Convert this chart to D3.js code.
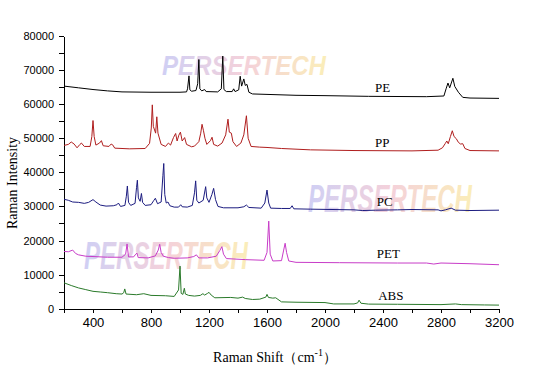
<!DOCTYPE html>
<html>
<head>
<meta charset="utf-8">
<script src="https://cdn.jsdelivr.net/npm/d3@7"></script>
<style>
  body { margin: 0; background: #fff; }
  svg { display: block; }
</style>
</head>
<body>
<div id="chart"></div>
<script>
let width = 545,
    height = 382;

// spectra, [Raman shift, intensity]
const pe = [[200,65300],[300,64800],[400,64300],[500,63900],[600,63600],[800,63500],[1000,63500],[1045,63600],[1052,64500],[1062,68300],[1068,64200],[1080,63800],[1110,64000],[1122,66000],[1130,73100],[1137,64500],[1150,63900],[1170,64300],[1180,63700],[1260,63600],[1285,64500],[1295,74100],[1303,64300],[1320,63700],[1360,63700],[1370,64500],[1380,63700],[1405,64200],[1415,68200],[1425,65300],[1440,67400],[1450,65500],[1462,65800],[1475,63500],[1500,63000],[1800,62600],[2000,62500],[2300,62300],[2700,62200],[2820,62400],[2835,64500],[2848,66200],[2860,64800],[2882,67600],[2895,65200],[2920,63500],[2950,62000],[3000,61800],[3200,61700]];

const pp = [[200,47900],[230,48200],[250,48900],[270,48300],[290,47200],[310,48200],[320,48600],[340,47600],[380,47600],[392,50500],[400,55200],[408,50500],[420,48000],[445,48600],[458,49300],[470,47800],[510,47600],[525,48300],[535,48100],[550,47100],[650,46900],[760,47000],[790,48500],[802,53000],[809,59800],[816,53500],[832,51500],[840,56300],[848,51500],[870,48200],[900,47600],[920,48600],[935,48000],[955,50200],[970,51400],[980,49200],[992,50900],[1003,51800],[1015,49200],[1032,50200],[1045,48200],[1080,47500],[1100,47700],[1130,49000],[1143,51500],[1152,54100],[1162,52200],[1172,50000],[1185,48200],[1210,49300],[1221,50300],[1232,48200],[1260,47700],[1290,48600],[1315,51000],[1331,55600],[1340,51800],[1354,51500],[1365,49000],[1390,47600],[1420,48600],[1440,51000],[1458,56600],[1470,50000],[1490,47600],[1550,47400],[1600,47300],[1700,47000],[1900,46600],[2200,46400],[2600,46300],[2780,46500],[2810,47200],[2830,48500],[2840,49200],[2850,48400],[2865,50500],[2878,52200],[2890,50500],[2905,49900],[2920,48800],[2935,48300],[2950,48400],[2965,47000],[3000,46400],[3200,46300]];

const pc = [[200,32100],[230,31800],[260,31300],[300,31200],[340,30900],[370,31200],[400,32000],[420,31300],[450,30400],[490,30100],[540,30200],[565,30500],[575,31000],[590,30000],[620,30300],[630,33000],[637,36000],[645,31200],[660,30300],[690,30900],[700,35500],[706,37700],[713,32500],[725,31500],[734,33800],[742,31200],[760,30300],[800,30500],[820,31800],[830,32400],[845,30800],[870,31300],[882,39000],[888,42600],[895,33500],[905,31000],[917,31300],[930,30200],[960,29800],[990,29800],[1005,30500],[1015,29900],[1050,29800],[1085,30300],[1100,34000],[1108,37500],[1116,31800],[1130,31000],[1160,31800],[1177,35800],[1185,32500],[1200,31200],[1220,33500],[1232,35300],[1245,32000],[1262,30000],[1300,29600],[1400,29600],[1440,29900],[1458,30400],[1475,29700],[1560,29500],[1585,31000],[1600,34800],[1612,31000],[1625,29500],[1700,29400],[1760,29400],[1773,30200],[1785,29300],[1900,29200],[2200,29000],[2260,28800],[2350,28900],[2500,29000],[2600,29100],[2780,29000],[2800,28700],[2830,29000],[2870,29500],[2900,28900],[3000,28800],[3200,28900]];

const pet = [[200,16800],[230,16700],[260,17200],[280,16200],[300,15800],[350,15400],[400,15300],[500,15100],[600,15100],[625,16000],[635,19000],[645,15200],[680,15200],[695,16000],[703,16300],[712,15000],[780,14900],[830,15500],[850,17200],[860,18900],[870,16500],[885,15400],[920,15000],[960,14800],[1050,14900],[1095,15300],[1113,15800],[1130,14900],[1190,14900],[1250,15400],[1275,17100],[1289,18200],[1300,16000],[1320,14700],[1450,14400],[1580,14200],[1600,16500],[1612,25700],[1622,16000],[1640,14000],[1700,14100],[1715,17200],[1725,19200],[1735,16500],[1750,14000],[1800,13600],[2100,13500],[2500,13400],[2700,13400],[2750,13100],[2800,13400],[3000,13200],[3200,12900]];

const abs = [[200,7600],[250,6800],[300,6100],[350,5600],[400,5100],[450,4900],[500,4700],[560,4400],[600,4300],[612,4700],[619,5800],[628,4300],[700,4100],[750,4400],[800,3900],[900,3800],[960,3600],[990,5500],[1000,12500],[1008,4500],[1020,4200],[1030,6000],[1037,4300],[1060,3900],[1100,3700],[1140,3900],[1158,4400],[1170,4000],[1190,4500],[1200,4800],[1215,4000],[1240,3200],[1350,3300],[1400,3100],[1432,3400],[1450,3000],[1500,2700],[1550,2800],[1592,3400],[1600,4200],[1610,3300],[1640,3100],[1660,3200],[1700,2000],[1800,1900],[2000,1800],[2060,1400],[2200,1400],[2225,1700],[2235,2500],[2248,1600],[2300,1350],[2500,1300],[2800,1200],[2900,1400],[2940,1200],[3100,1100],[3200,1050]];

const seriesNames = ["PE", "PP", "PC", "PET", "ABS"];
const seriesData = [pe, pp, pc, pet, abs];
const seriesColors = ["#000000", "#b01e1e", "#1c1c80", "#c83cc8", "#2a7a2a"];
// where each label sits, [shift, intensity]
const labelPos = [[2345, 63700], [2345, 47500], [2357, 30200], [2357, 14800], [2367, 2600]];

const xTicks = d3.range(200, 3201, 200);
const yTicks = d3.range(0, 80001, 5000);

const x = d3.scaleLinear().domain([200, 3200]).range([64, 499]);
const y = d3.scaleLinear().domain([0, 80000]).range([308.7, 36]);

let svg = d3.select("#chart")
  .append("svg")
  .attr("width", width)
  .attr("height", height);

svg.append("rect").attr("width", width).attr("height", height).attr("fill", "#fff");

// faded watermark
let grad = svg.append("defs").append("linearGradient")
  .attr("id", "wm")
  .attr("x1", "0%").attr("x2", "100%");
grad.append("stop").attr("offset", "0%").attr("stop-color", "#c4c4f2");
grad.append("stop").attr("offset", "50%").attr("stop-color", "#f2c6d2");
grad.append("stop").attr("offset", "100%").attr("stop-color", "#faeaa8");

const marks = [[162, 75, 28], [308, 212, 38], [84, 269, 38]];
marks.forEach((m) => {
  svg.append("text")
    .attr("x", m[0])
    .attr("y", m[1])
    .attr("textLength", 164)
    .attr("lengthAdjust", "spacingAndGlyphs")
    .style("font-family", "Liberation Sans, Arial, sans-serif")
    .style("font-weight", "bold")
    .style("font-style", "italic")
    .style("font-size", m[2] + "px")
    .style("fill", "url(#wm)")
    .style("opacity", 0.8)
    .text("PERSERTECH");
});

// axes
let xAxis = svg.append("g")
  .attr("transform", "translate(0,308.7)")
  .call(d3.axisBottom(x)
    .tickValues(xTicks)
    .tickSize(4)
    .tickSizeOuter(0)
    .tickPadding(5)
    .tickFormat((d) => d % 400 === 0 ? d : ""));
xAxis.selectAll("text")
  .style("font-family", "Liberation Sans, Arial, sans-serif")
  .style("font-size", "13px")
  .style("fill", "#000");

let yAxis = svg.append("g")
  .attr("transform", "translate(64,0)")
  .call(d3.axisLeft(y)
    .tickValues(yTicks)
    .tickSize(5)
    .tickSizeOuter(0)
    .tickPadding(5)
    .tickFormat((d) => d % 10000 === 0 ? d : ""));
yAxis.selectAll("text")
  .style("font-family", "Liberation Sans, Arial, sans-serif")
  .style("font-size", "11px")
  .style("fill", "#000");

svg.selectAll(".domain, .tick line").style("stroke", "#000").style("shape-rendering", "crispEdges");

// spectra
let line = d3.line()
  .x((d) => x(d[0]))
  .y((d) => y(d[1]));

svg.selectAll("path.spec")
  .data(seriesData)
  .enter()
  .append("path")
  .attr("class", "spec")
  .attr("d", line)
  .style("fill", "none")
  .style("stroke", (d, i) => seriesColors[i])
  .style("stroke-width", 1);

svg.selectAll("text.lab")
  .data(seriesNames)
  .enter()
  .append("text")
  .attr("class", "lab")
  .attr("x", (d, i) => x(labelPos[i][0]))
  .attr("y", (d, i) => y(labelPos[i][1]))
  .style("font-family", "Liberation Serif, Times New Roman, serif")
  .style("font-size", "13px")
  .text((d) => d);

// axis titles
svg.append("text")
  .attr("transform", "translate(17,183) rotate(-90)")
  .attr("text-anchor", "middle")
  .style("font-family", "Liberation Serif, Times New Roman, serif")
  .style("font-size", "14px")
  .text("Raman Intensity");

let xt = svg.append("text")
  .attr("x", 275)
  .attr("y", 362)
  .attr("text-anchor", "middle")
  .style("font-family", "Liberation Serif, Times New Roman, serif")
  .style("font-size", "14px");
xt.append("tspan").text("Raman Shift（cm");
xt.append("tspan").attr("dy", -6).style("font-size", "10px").text("-1");
xt.append("tspan").attr("dy", 6).text("）");
</script>
</body>
</html>
